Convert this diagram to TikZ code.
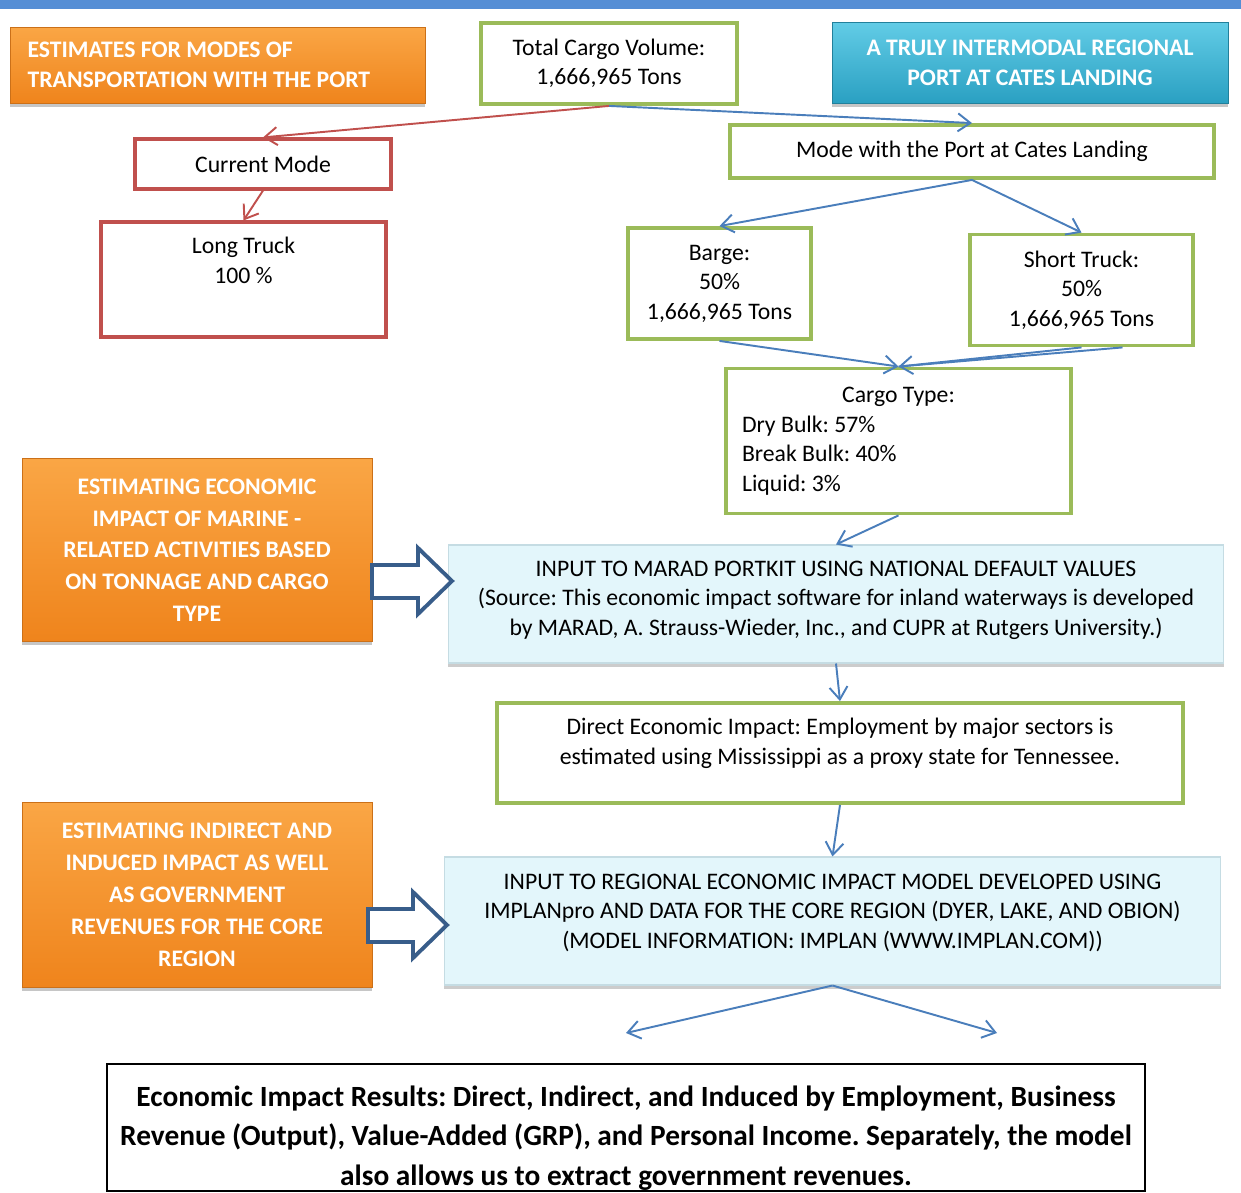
\documentclass[tikz,border=0pt]{standalone}
\usepackage{fontspec}
\setmainfont{Carlito}
\usepackage{xcolor}
\usetikzlibrary{arrows.meta,calc,positioning,shadows}
\frenchspacing
\definecolor{PortBar}{HTML}{558ED5}
\definecolor{PortGreen}{HTML}{9BBB59}
\definecolor{PortRed}{HTML}{C0504D}
\definecolor{PortBlue}{HTML}{4A7EBB}
\definecolor{PortNavy}{HTML}{385D8A}
\definecolor{PortOrangeTop}{HTML}{FAA645}
\definecolor{PortOrangeBot}{HTML}{EF841C}
\definecolor{PortCyanTop}{HTML}{62CCE6}
\definecolor{PortCyanBot}{HTML}{2AA0C2}
\definecolor{PortIce}{HTML}{E3F6FB}
\definecolor{PortIceEdge}{HTML}{C5DCE3}
\tikzset{
  portfont/.style={font=\fontsize{13.5}{16.8}\selectfont},
  greenbox/.style={draw=PortGreen,line width=2.2pt,portfont,
    align=center,inner sep=0pt},
  redbox/.style={draw=PortRed,line width=1.8pt,portfont,
    align=center,inner sep=0pt},
  orangebox/.style={top color=PortOrangeTop,bottom color=PortOrangeBot,
    draw=PortOrangeBot!85!black,line width=0.4pt,text=white,
    align=center,inner sep=0pt,
    font=\bfseries\fontsize{13.5}{18}\selectfont,
    drop shadow={shadow xshift=0pt,shadow yshift=-2pt,opacity=0.45}},
  cyanbox/.style={top color=PortCyanTop,bottom color=PortCyanBot,
    draw=PortCyanBot!80!black,line width=0.4pt,text=white,
    align=center,inner sep=0pt,
    font=\bfseries\fontsize{13.5}{17}\selectfont,
    drop shadow={shadow xshift=0pt,shadow yshift=-2pt,opacity=0.45}},
  icebox/.style={fill=PortIce,draw=PortIceEdge,line width=0.6pt,
    portfont,align=center,inner sep=0pt,
    drop shadow={shadow xshift=0pt,shadow yshift=-2pt,opacity=0.4}},
  resultbox/.style={draw=black,line width=0.9pt,inner sep=0pt},
  boxtext/.style={portfont,align=center,inner sep=0pt},
  flow/.style={-{Straight Barb[length=2.5mm,width=3.6mm]},
    PortBlue,line width=1.1pt},
  redflow/.style={flow,PortRed},
  hollow/.style={draw=PortNavy,fill=white,line width=2.2pt,line join=miter}
}
\begin{document}
\begin{tikzpicture}[x=0.02cm,y=-0.02cm]

        \useasboundingbox (0,0) rectangle (1241,1193);

        \fill[PortBar] (0,0) rectangle (1241,9);

        % heading boxes
        \node[orangebox,minimum width=8.3cm,minimum height=1.52cm,
          text width=7.6cm,align=flush left,
          font=\bfseries\fontsize{13.5}{17}\selectfont]
          (modes) at (217.5,65)
          {ESTIMATES FOR MODES OF\\TRANSPORTATION WITH THE PORT};

        \node[greenbox,minimum width=5.12cm,minimum height=1.62cm]
          (total) at (609,63.5)
          {Total Cargo Volume:\\1,666,965 Tons};

        \node[cyanbox,minimum width=7.92cm,minimum height=1.62cm]
          (intermodal) at (1030,62.5)
          {A TRULY INTERMODAL REGIONAL\\PORT AT CATES LANDING};

        % current mode
        \node[redbox,minimum width=5.12cm,minimum height=1.0cm]
          (current) at (263,164) {Current Mode};

        \node[redbox,minimum width=5.7cm,minimum height=2.3cm]
          (longtruck) at (243.5,279.5) {};
        \node[boxtext] (longtrucktxt) at ($(longtruck.north)+(0,40)$)
          {Long Truck\\100 \%};

        % mode with the port
        \node[greenbox,minimum width=9.68cm,minimum height=1.06cm]
          (portmode) at (972,151.5)
          {Mode with the Port at Cates Landing};

        \node[greenbox,minimum width=3.66cm,minimum height=2.22cm]
          (barge) at (719.5,283.5)
          {Barge:\\50\%\\1,666,965 Tons};

        \node[greenbox,minimum width=4.46cm,minimum height=2.22cm]
          (shorttruck) at (1081.5,290)
          {Short Truck:\\50\%\\1,666,965 Tons};

        \node[greenbox,minimum width=6.9cm,minimum height=2.9cm,
          text width=6.26cm,align=flush left]
          (cargo) at (898.5,441)
          {\hfill Cargo Type:\hfill\null\\Dry Bulk: 57\%\\Break Bulk: 40\%\\Liquid: 3\%};

        % economic impact
        \node[orangebox,minimum width=7.0cm,minimum height=3.66cm]
          (marine) at (197,550)
          {ESTIMATING ECONOMIC\\IMPACT OF MARINE -\\RELATED ACTIVITIES BASED\\ON TONNAGE AND CARGO\\TYPE};

        \node[icebox,minimum width=15.52cm,minimum height=2.36cm]
          (marad) at (836,604) {};
        \node[boxtext] (maradtxt) at ($(marad.north)+(0,55.5)$)
          {INPUT TO MARAD PORTKIT USING NATIONAL DEFAULT VALUES\\
           (Source: This economic impact software for inland waterways is developed\\
           by MARAD, A. Strauss-Wieder, Inc., and CUPR at Rutgers University.)};

        \node[greenbox,minimum width=13.72cm,minimum height=2.0cm]
          (direct) at (840,753) {};
        \node[boxtext] (directtxt) at ($(direct.north)+(0,42)$)
          {Direct Economic Impact: Employment by major sectors is\\
           estimated using Mississippi as a proxy state for Tennessee.};

        \node[orangebox,minimum width=7.0cm,minimum height=3.7cm,
          font=\bfseries\fontsize{13.5}{18.2}\selectfont]
          (indirect) at (197,894.5)
          {ESTIMATING INDIRECT AND\\INDUCED IMPACT AS WELL\\AS GOVERNMENT\\REVENUES FOR THE CORE\\REGION};

        \node[icebox,minimum width=15.54cm,minimum height=2.56cm]
          (regional) at (832.5,921) {};
        \node[boxtext] (regionaltxt) at ($(regional.north)+(0,56)$)
          {INPUT TO REGIONAL ECONOMIC IMPACT MODEL DEVELOPED USING\\
           IMPLANpro AND DATA FOR THE CORE REGION (DYER, LAKE, AND OBION)\\
           (MODEL INFORMATION: IMPLAN (WWW.IMPLAN.COM))};

        \node[resultbox,minimum width=20.76cm,minimum height=2.54cm]
          (results) at (626,1127.5) {};
        \node[boxtext,font=\bfseries\fontsize{16.7}{22.4}\selectfont]
          (resultstxt) at ($(results.center)+(0,10.5)$)
          {Economic Impact Results: Direct, Indirect, and Induced by Employment, Business\\
           Revenue (Output), Value-Added (GRP), and Personal Income. Separately, the model\\
           also allows us to extract government revenues.};

        % hollow arrows
        \draw[hollow]
          (372,565) -- (418,565) -- (418,548) -- (452,581)
          -- (418,614) -- (418,598) -- (372,598) -- cycle;

        \draw[hollow]
          (368,909) -- (413,909) -- (413,892) -- (447,925)
          -- (413,958) -- (413,942) -- (368,942) -- cycle;

        % connectors
        \draw[redflow] (total.south) -- (current.north);
        \draw[redflow] (current.south) -- (longtruck.north);

        \draw[flow] (total.south) -- (portmode.north);
        \draw[flow] (portmode.south) -- (barge.north);
        \draw[flow] (portmode.south) -- (shorttruck.north);
        \draw[flow] (barge.south) -- (cargo.north);
        \draw[flow] (shorttruck.south) -- (cargo.north);
        \draw[flow,-] ($(shorttruck.south)+(41,0)$) -- (cargo.north);
        \draw[flow] (cargo.south) -- (marad.north);
        \draw[flow] (marad.south) -- (direct.north);
        \draw[flow] (direct.south) -- (regional.north);

        \coordinate (leftend) at (626,1033);
        \coordinate (rightend) at (997,1033);
        \draw[flow] (regional.south) -- (leftend);
        \draw[flow] (regional.south) -- (rightend);

      \end{tikzpicture}
\end{document}
